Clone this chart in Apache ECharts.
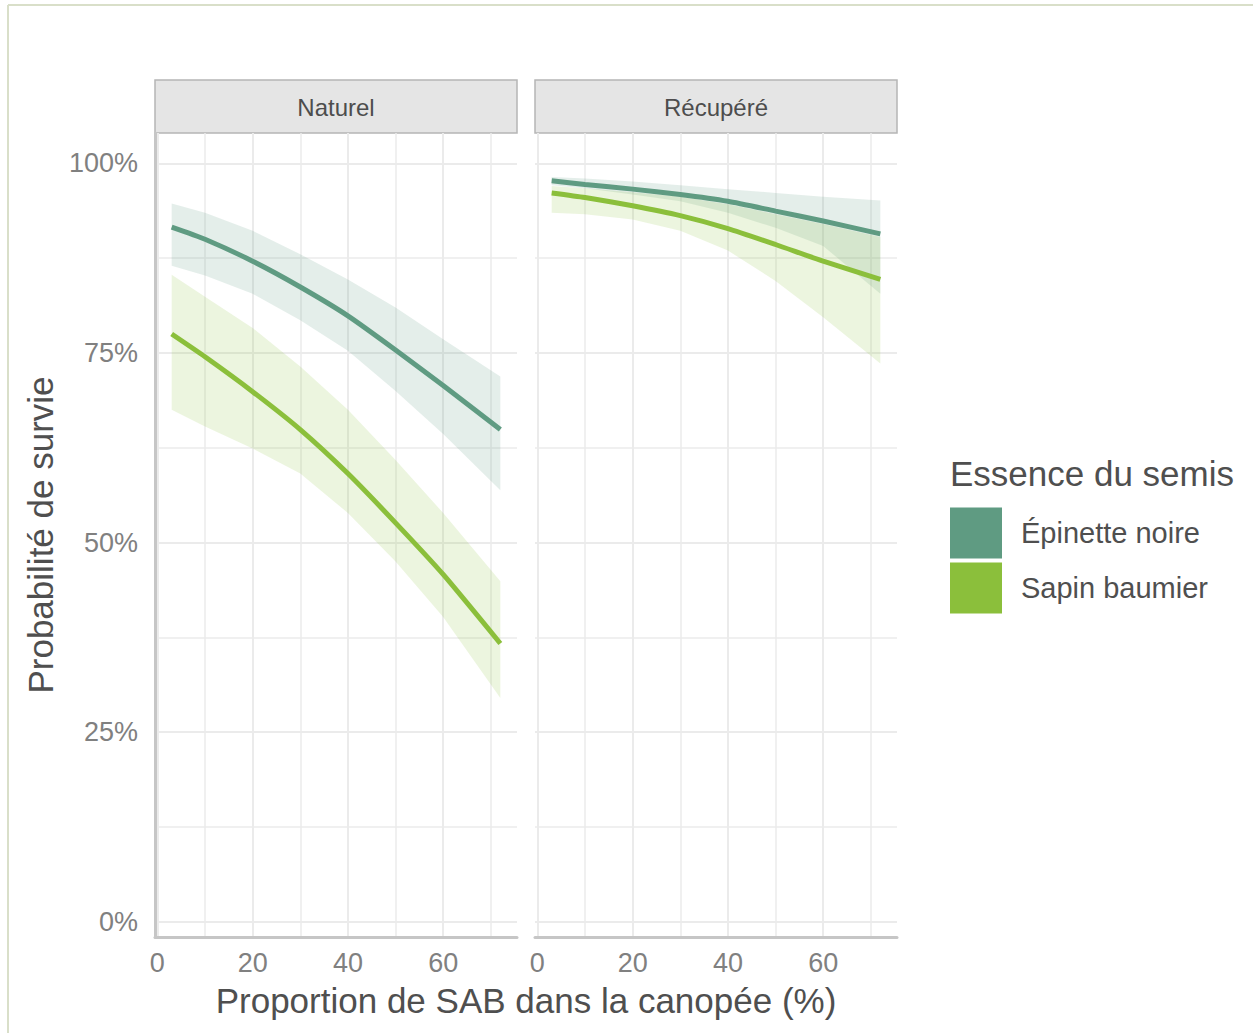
<!DOCTYPE html>
<html>
<head>
<meta charset="utf-8">
<script src="https://cdn.jsdelivr.net/npm/echarts@6/dist/echarts.min.js"></script>
<style>
  html, body { margin: 0; padding: 0; background: #ffffff; }
  #chart { width: 1253px; height: 1033px; }
</style>
</head>
<body>
<div id="chart"></div>
<script>
// ---------- data ----------
const facets = ['Naturel', 'Récupéré'];
const species = ['Épinette noire', 'Sapin baumier'];
const xVals = [3, 10, 20, 30, 40, 50, 60, 72];

// Naturel
const epnNatFit = [91.6, 90.0, 87.1, 83.7, 79.9, 75.4, 70.7, 64.9];
const epnNatLo  = [86.5, 85.2, 82.8, 79.3, 75.3, 70.0, 64.3, 56.9];
const epnNatHi  = [94.7, 93.5, 91.1, 88.0, 84.7, 81.0, 76.8, 71.9];
const sabNatFit = [77.5, 74.5, 69.9, 64.9, 59.1, 52.6, 45.8, 36.7];
const sabNatLo  = [67.5, 65.3, 62.4, 59.1, 53.9, 47.5, 40.2, 29.5];
const sabNatHi  = [85.3, 82.4, 78.3, 73.2, 67.5, 60.9, 53.9, 44.9];

// Récupéré
const epnRecFit = [97.7, 97.2, 96.6, 95.9, 95.0, 93.7, 92.4, 90.7];
const epnRecLo  = [97.1, 96.7, 95.9, 95.0, 93.5, 91.5, 89.1, 82.8];
const epnRecHi  = [98.2, 98.0, 97.6, 97.1, 96.6, 96.1, 95.6, 95.1];
const sabRecFit = [96.1, 95.5, 94.4, 93.1, 91.4, 89.3, 87.1, 84.7];
const sabRecLo  = [93.5, 93.3, 92.6, 91.1, 88.5, 84.5, 79.7, 73.6];
const sabRecHi  = [97.0, 96.7, 96.2, 95.6, 94.6, 93.3, 92.0, 90.3];

const xTicks = [0, 20, 40, 60];
const xMinorTicks = [10, 30, 50, 70];
const yTicks = [0, 25, 50, 75, 100];
const yMinorTicks = [12.5, 37.5, 62.5, 87.5];

const texts = {
  yTitle: 'Probabilité de survie',
  xTitle: 'Proportion de SAB dans la canopée (%)',
  legendTitle: 'Essence du semis'
};

// ---------- styling ----------
const FONT = '"Liberation Sans", Arial, Helvetica, sans-serif';
const colors = ['#5f9b82', '#8bbf3b'];
const ribbonColors = ['rgba(95,155,130,0.17)', 'rgba(139,191,59,0.16)'];
const gridColor = '#ebebeb';
const axisColor = '#c6c6c6';
const tickColor = '#808080';
const titleColor = '#4f4f4f';

const panelData = [
  [ {fit: epnNatFit, lo: epnNatLo, hi: epnNatHi}, {fit: sabNatFit, lo: sabNatLo, hi: sabNatHi} ],
  [ {fit: epnRecFit, lo: epnRecLo, hi: epnRecHi}, {fit: sabRecFit, lo: sabRecLo, hi: sabRecHi} ]
];

const gridLefts = [155, 535];
const gridTop = 133, gridW = 362, gridH = 804;

const grids = gridLefts.map(l => ({ left: l, top: gridTop, width: gridW, height: gridH, containLabel: false }));

const xAxes = [], yAxes = [];
gridLefts.forEach((l, g) => {
  xAxes.push({
    gridIndex: g, type: 'value', min: -0.5, max: 75.5, position: 'bottom',
    axisLine: { show: true, onZero: false, lineStyle: { color: axisColor, width: 3 } },
    axisTick: { show: false, customValues: xTicks },
    axisLabel: { customValues: xTicks, fontSize: 27, color: tickColor, margin: 12, fontFamily: FONT },
    splitLine: { show: true, lineStyle: { color: gridColor, width: 2 } }
  });
  xAxes.push({
    gridIndex: g, type: 'value', min: -0.5, max: 75.5, position: 'top',
    axisLine: { show: false }, axisLabel: { show: false },
    axisTick: { show: false, customValues: xMinorTicks },
    splitLine: { show: true, lineStyle: { color: gridColor, width: 1.5 } }
  });
  yAxes.push({
    gridIndex: g, type: 'value', min: -2, max: 104, position: 'left',
    axisLine: { show: g === 0, onZero: false, lineStyle: { color: axisColor, width: 3 } },
    axisTick: { show: false, customValues: yTicks },
    axisLabel: { show: g === 0, customValues: yTicks, formatter: '{value}%', fontSize: 27, color: tickColor, margin: 17, fontFamily: FONT },
    splitLine: { show: true, lineStyle: { color: gridColor, width: 2 } }
  });
  yAxes.push({
    gridIndex: g, type: 'value', min: -2, max: 104, position: 'right',
    axisLine: { show: false }, axisLabel: { show: false },
    axisTick: { show: false, customValues: yMinorTicks },
    splitLine: { show: true, lineStyle: { color: gridColor, width: 1.5 } }
  });
});

function ribbonRenderer(lo, hi, fill) {
  return function (params, api) {
    if (params.dataIndex !== 0) return null;
    const pts = [];
    for (let i = 0; i < xVals.length; i++) pts.push(api.coord([xVals[i], hi[i]]));
    for (let i = xVals.length - 1; i >= 0; i--) pts.push(api.coord([xVals[i], lo[i]]));
    return { type: 'polygon', shape: { points: pts }, style: { fill: fill, stroke: null } };
  };
}

const series = [];
panelData.forEach((panel, g) => {
  const xi = g * 2, yi = g * 2;
  panel.forEach((d, s) => {
    series.push({
      name: species[s] + ' — IC ' + facets[g], type: 'custom', xAxisIndex: xi, yAxisIndex: yi,
      silent: true, z: 2,
      renderItem: ribbonRenderer(d.lo, d.hi, ribbonColors[s]),
      encode: { x: 0, y: [1, 2] },
      data: xVals.map((x, i) => [x, d.lo[i], d.hi[i]])
    });
  });
  panel.forEach((d, s) => {
    series.push({
      name: species[s], type: 'line', xAxisIndex: xi, yAxisIndex: yi,
      symbol: 'none', smooth: 0.2, silent: true,
      lineStyle: { color: colors[s], width: 5 },
      itemStyle: { color: colors[s] },
      data: xVals.map((x, i) => [x, d.fit[i]]), z: 3
    });
  });
});

const graphic = [
  { type: 'line', shape: { x1: 8, y1: 5, x2: 1253, y2: 5 }, style: { stroke: '#d9dfc9', lineWidth: 2 }, silent: true },
  { type: 'line', shape: { x1: 8, y1: 5, x2: 8, y2: 1033 }, style: { stroke: '#d9dfc9', lineWidth: 2 }, silent: true },
  { type: 'text', x: 40, y: 535, rotation: Math.PI / 2,
    style: { text: texts.yTitle, fontSize: 35, fontFamily: FONT, fill: titleColor, align: 'center', verticalAlign: 'middle' } },
  { type: 'text', x: 526, y: 1000,
    style: { text: texts.xTitle, fontSize: 35, fontFamily: FONT, fill: titleColor, align: 'center', verticalAlign: 'middle' } },
  { type: 'text', x: 950, y: 473,
    style: { text: texts.legendTitle, fontSize: 35, fontFamily: FONT, fill: titleColor, align: 'left', verticalAlign: 'middle' } }
];
facets.forEach((f, g) => {
  graphic.push({ type: 'rect', shape: { x: gridLefts[g], y: 80, width: gridW, height: 53 },
    style: { fill: '#e5e5e5', stroke: '#b5b5b5', lineWidth: 1.5 }, silent: true });
  graphic.push({ type: 'text', x: gridLefts[g] + gridW / 2, y: 107,
    style: { text: f, fontSize: 24, fontFamily: FONT, fill: '#4d4d4d', align: 'center', verticalAlign: 'middle' } });
});

const option = {
  backgroundColor: '#ffffff',
  animation: false,
  grid: grids,
  xAxis: xAxes,
  yAxis: yAxes,
  legend: {
    data: species.map((s, i) => ({ name: s, itemStyle: { color: colors[i] } })),
    orient: 'vertical', left: 950, top: 507.5, padding: 0,
    icon: 'rect', itemWidth: 52, itemHeight: 51, itemGap: 4,
    selectedMode: false,
    textStyle: { fontSize: 29, color: titleColor, fontFamily: FONT, padding: [0, 0, 0, 14] }
  },
  series: series,
  graphic: graphic
};

const chart = echarts.init(document.getElementById('chart'), null, { renderer: 'svg' });
chart.setOption(option);
</script>
</body>
</html>
